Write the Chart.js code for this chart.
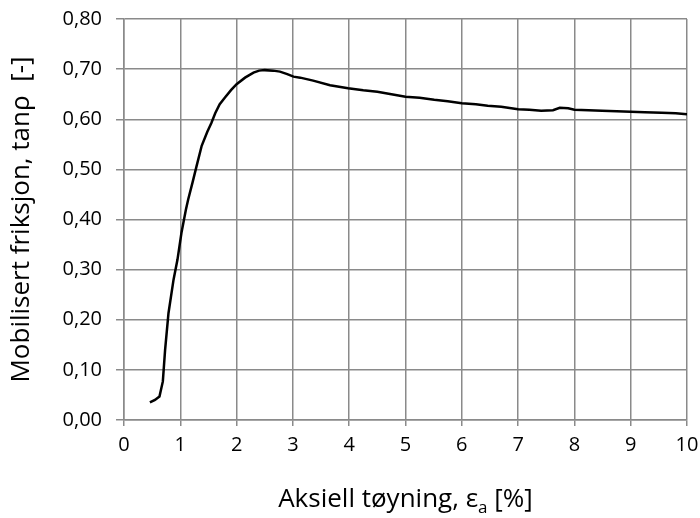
<!DOCTYPE html>
<html>
<head>
<meta charset="utf-8">
<script src="https://cdn.jsdelivr.net/npm/chart.js@4"></script>
<style>
    html, body { margin: 0; padding: 0; background: #fff; }
    #wrap { width: 700px; height: 518px; }
</style>
</head>
<body>
<div id="wrap"><canvas id="frictionChart"></canvas></div>
<script>
// Data
const strain = [0.46, 0.55, 0.63, 0.69, 0.73, 0.79, 0.88, 0.95, 1.02, 1.10, 1.14, 1.22, 1.29, 1.38, 1.48, 1.55, 1.62, 1.70, 1.79, 1.90, 2.00, 2.15, 2.30, 2.40, 2.50, 2.65, 2.77, 2.90, 3.01, 3.13, 3.36, 3.66, 3.98, 4.25, 4.50, 4.75, 5.00, 5.25, 5.51, 5.75, 6.00, 6.25, 6.46, 6.70, 7.00, 7.20, 7.41, 7.62, 7.74, 7.89, 8.00, 8.25, 8.49, 8.75, 9.00, 9.25, 9.55, 9.80, 10.00];
const friction = [0.035, 0.040, 0.047, 0.077, 0.140, 0.213, 0.280, 0.320, 0.373, 0.420, 0.440, 0.475, 0.507, 0.547, 0.575, 0.592, 0.612, 0.630, 0.643, 0.658, 0.670, 0.683, 0.693, 0.697, 0.698, 0.697, 0.695, 0.690, 0.685, 0.683, 0.677, 0.668, 0.662, 0.658, 0.655, 0.650, 0.645, 0.643, 0.639, 0.636, 0.632, 0.630, 0.627, 0.625, 0.620, 0.619, 0.617, 0.618, 0.623, 0.622, 0.619, 0.618, 0.617, 0.616, 0.615, 0.614, 0.613, 0.612, 0.610];

// x-tittel i tre deler: tekst, senket indeks, rest
const xTitleParts = ['Aksiell tøyning, ε', 'a', ' [%]'];
const yTitle = 'Mobilisert friksjon, tanρ  [-]';

const gridColor = '#8a8a8a';
const fontFamily = '"Open Sans", "DejaVu Sans", sans-serif';

const points = strain.map((x, i) => ({ x: x, y: friction[i] }));

// Tegner x-aksetittelen med ekte senket skrift
const xTitlePlugin = {
    id: 'xTitleSub',
    afterDraw(chart) {
        const ctx = chart.ctx;
        const area = chart.chartArea;
        const mainFont = '26px ' + fontFamily;
        const subFont = '17px ' + fontFamily;
        ctx.save();
        ctx.fillStyle = '#000';
        ctx.textBaseline = 'alphabetic';
        ctx.textAlign = 'left';
        ctx.font = mainFont;
        const w1 = ctx.measureText(xTitleParts[0]).width;
        const w3 = ctx.measureText(xTitleParts[2]).width;
        ctx.font = subFont;
        const w2 = ctx.measureText(xTitleParts[1]).width;
        let x = (area.left + area.right) / 2 - (w1 + w2 + w3) / 2;
        const y = chart.scales.x.bottom - 11;
        ctx.font = mainFont;
        ctx.fillText(xTitleParts[0], x, y);
        x += w1;
        ctx.font = subFont;
        ctx.fillText(xTitleParts[1], x, y + 6);
        x += w2;
        ctx.font = mainFont;
        ctx.fillText(xTitleParts[2], x, y);
        ctx.restore();
    }
};

const chart = new Chart(document.getElementById('frictionChart'), {
    type: 'line',
    data: {
        datasets: [{
            data: points,
            borderColor: '#000',
            borderWidth: 2.5,
            pointRadius: 0,
            fill: false,
            tension: 0
        }]
    },
    options: {
        responsive: true,
        maintainAspectRatio: false,
        animation: false,
        layout: {
            padding: { top: 19, right: 13, left: 0, bottom: 0 }
        },
        plugins: {
            legend: { display: false },
            tooltip: { enabled: false }
        },
        scales: {
            x: {
                type: 'linear',
                min: 0,
                max: 10,
                afterFit: function(scale) {
                    scale.height = 98;
                    scale.paddingLeft = 0;
                    scale.paddingRight = 0;
                },
                ticks: {
                    stepSize: 1,
                    color: '#000',
                    padding: 7,
                    maxRotation: 0,
                    font: { family: fontFamily, size: 20 }
                },
                grid: { color: gridColor, lineWidth: 1.5, tickLength: 6 },
                border: { color: gridColor, width: 1.5 }
            },
            y: {
                min: 0,
                max: 0.8,
                afterFit: function(scale) {
                    scale.width = 124;
                    scale.paddingTop = 0;
                    scale.paddingBottom = 0;
                },
                ticks: {
                    stepSize: 0.1,
                    color: '#000',
                    padding: 14,
                    font: { family: fontFamily, size: 20 },
                    callback: function(value) {
                        return value.toFixed(2).replace('.', ',');
                    }
                },
                grid: { color: gridColor, lineWidth: 1.5, tickLength: 8 },
                border: { color: gridColor, width: 1.5 },
                title: {
                    display: true,
                    text: yTitle,
                    color: '#000',
                    padding: { top: 6, bottom: 0 },
                    font: { family: fontFamily, size: 26 }
                }
            }
        }
    },
    plugins: [xTitlePlugin]
});
</script>
</body>
</html>
